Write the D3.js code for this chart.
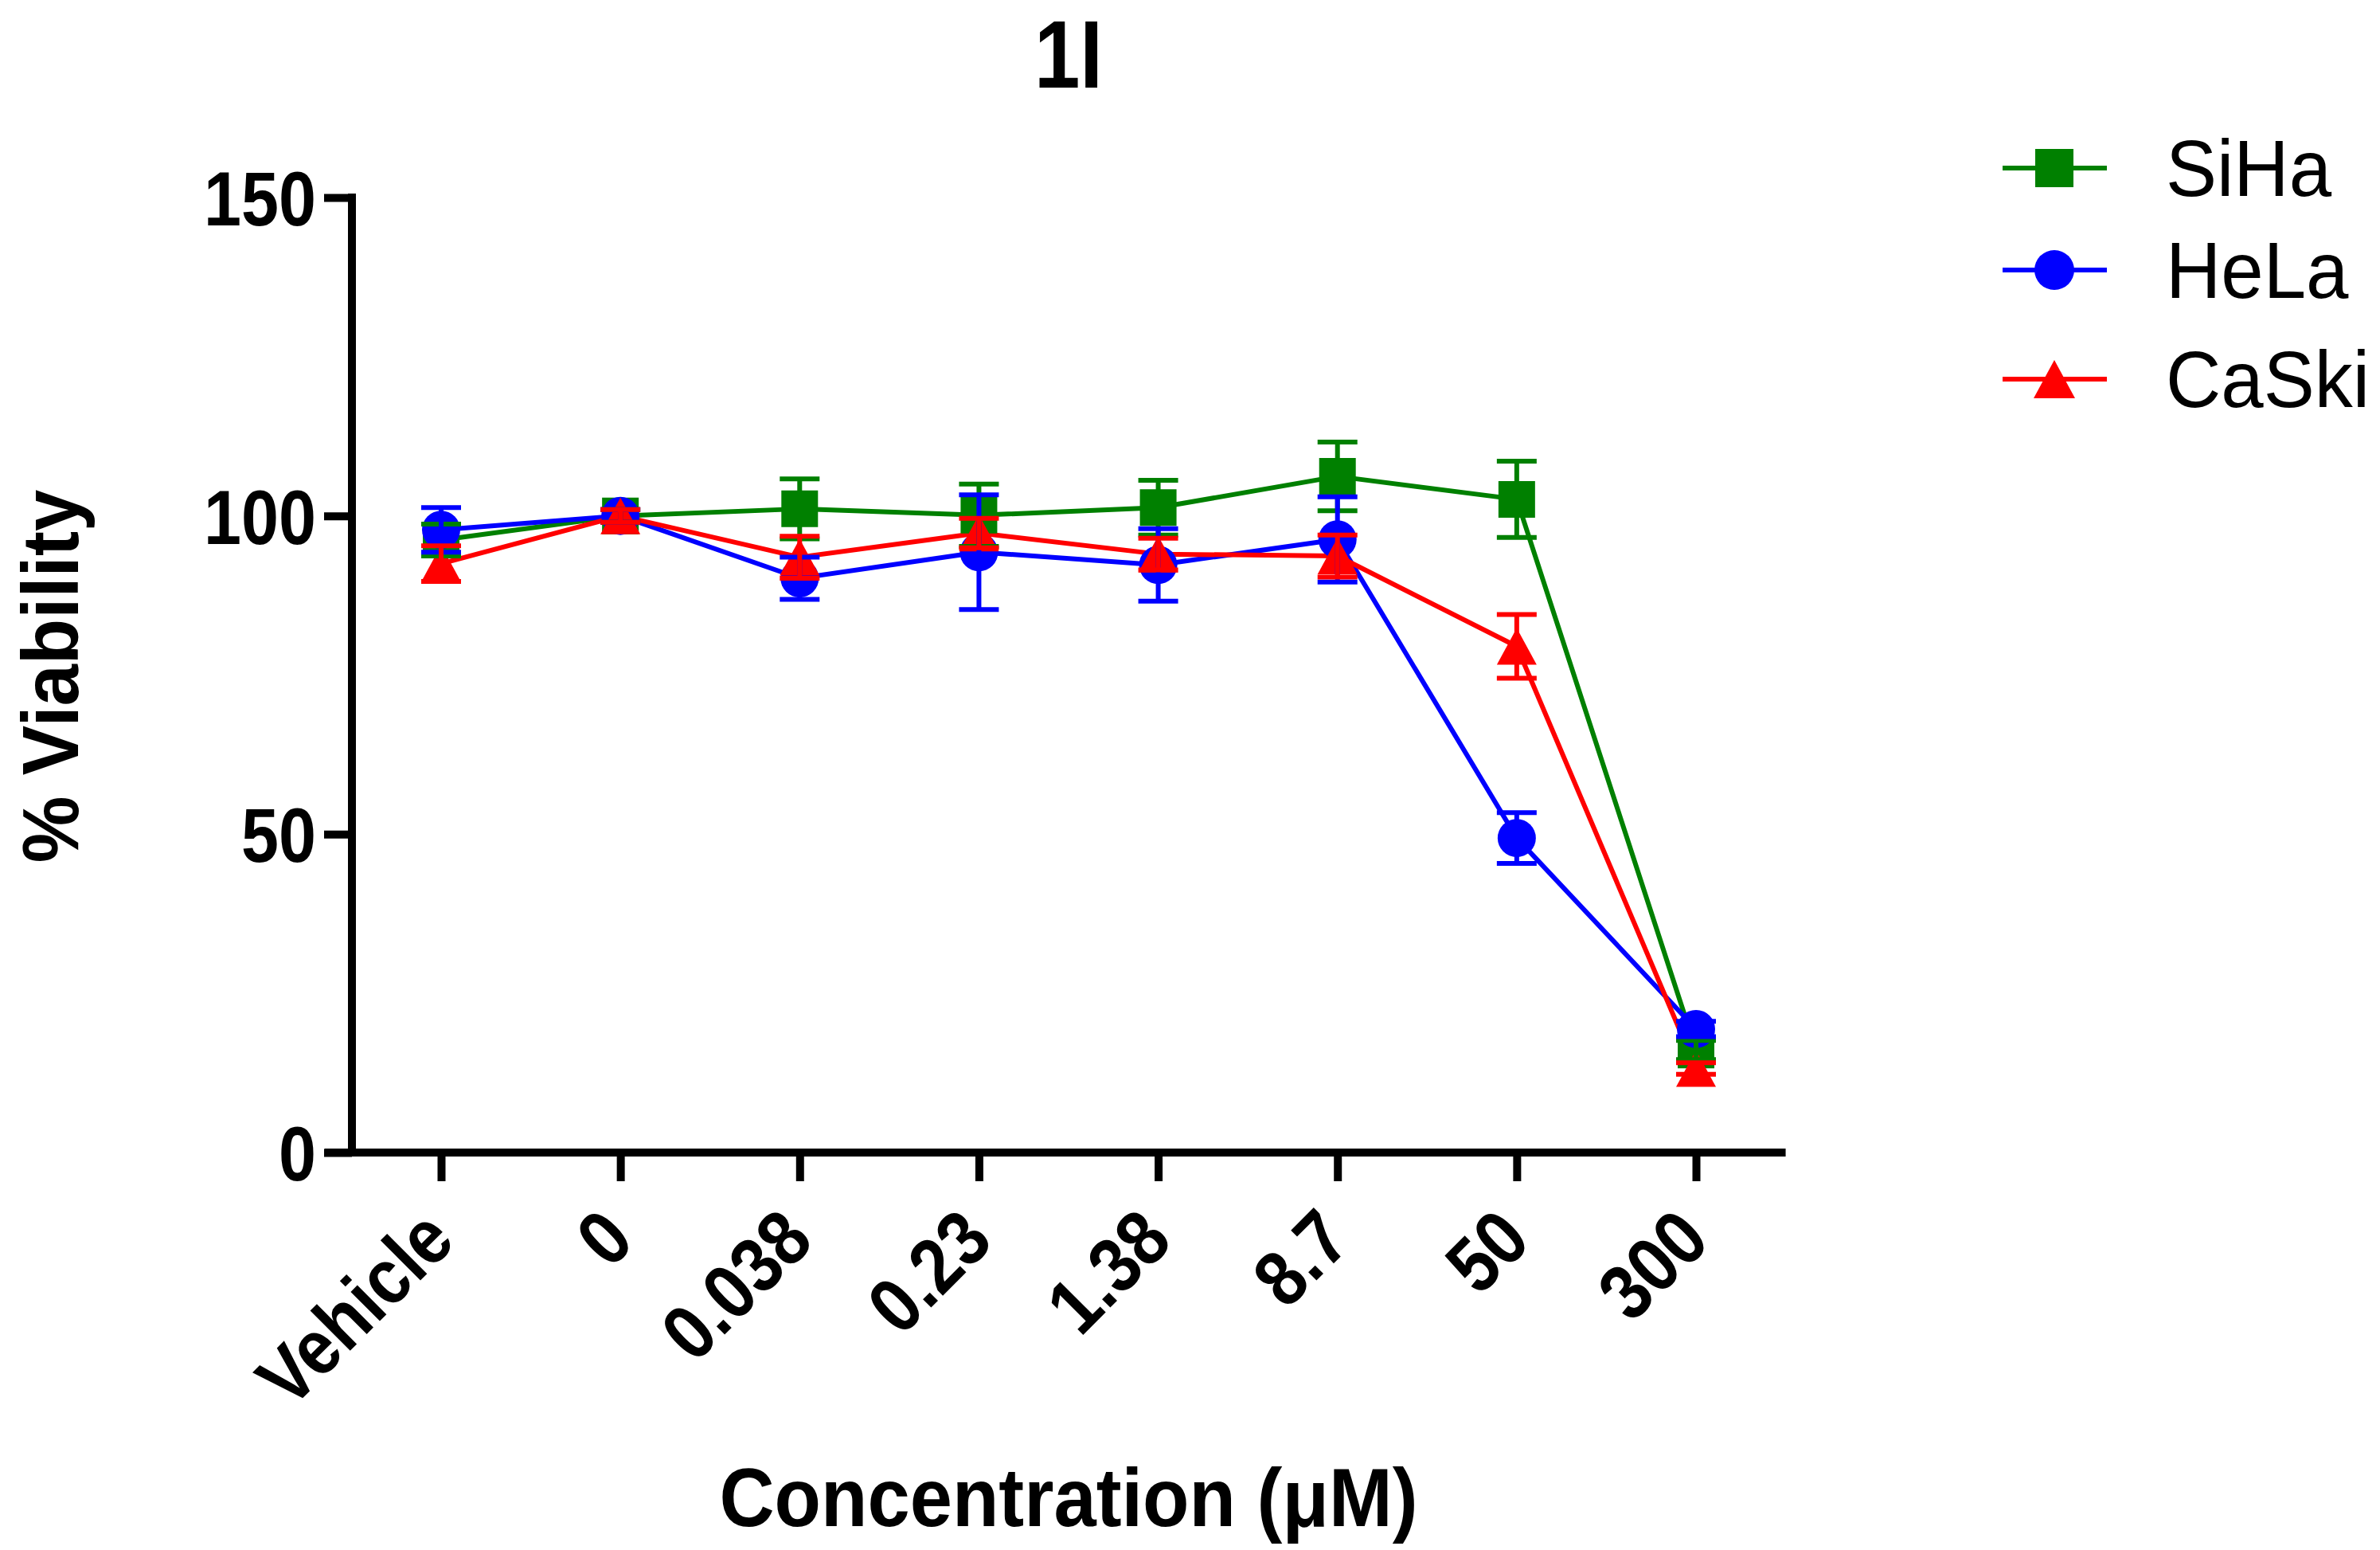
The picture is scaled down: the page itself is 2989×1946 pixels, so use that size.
<!DOCTYPE html>
<html>
<head>
<meta charset="utf-8">
<script src="https://cdn.jsdelivr.net/npm/d3@7/dist/d3.min.js"></script>
<style>
  html, body { margin: 0; padding: 0; background: #fff; }
  svg { display: block; }
  text { font-family: "Liberation Sans", Arial, Helvetica, sans-serif; }
</style>
</head>
<body>
<svg id="chart" width="2989" height="1946"></svg>
<script>
// ---------------- data ----------------
const categories = ["Vehicle", "0", "0.038", "0.23", "1.38", "8.7", "50", "300"];
const yTicks = [0, 50, 100, 150];
const seriesNames = ["SiHa", "HeLa", "CaSki"];
const seriesColors = ["#008000", "#0000FF", "#FF0000"];
const seriesShapes = ["square", "circle", "triangle"];

const sihaMean = [96.2, 100, 101.1, 100.1, 101.3, 106.2, 102.6, 16.1];
const sihaSem  = [2.5, 1.0, 4.7, 4.9, 4.3, 5.4, 6.0, 1.5];
const helaMean = [97.8, 100, 90.2, 94.3, 92.3, 96.3, 49.4, 19.4];
const helaSem  = [3.5, 1.0, 3.3, 9.0, 5.7, 6.7, 4.0, 1.2];
const caskiMean = [92.5, 100, 93.5, 97.3, 94.0, 93.7, 79.5, 13.2];
const caskiSem  = [2.8, 1.0, 3.3, 2.3, 2.5, 3.3, 5.0, 0.9];

const means = [sihaMean, helaMean, caskiMean];
const sems = [sihaSem, helaSem, caskiSem];

// ---------------- layout ----------------
const svg = d3.select("#chart");
const axisX = 442, axisY0 = 1447, axisYTop = 248;
const x = d3.scalePoint().domain(categories).range([554, 2130]);
const step = x.step();
const y = d3.scaleLinear().domain([0, 150]).range([axisY0, axisYTop]);

const AX_W = 10;
const LINE_W = 6;
const SYM = 46;
const CAP_W = 50;

function condense(sel, ratio) {
  sel.each(function () {
    const n = this.getComputedTextLength();
    d3.select(this).attr("textLength", n * ratio).attr("lengthAdjust", "spacingAndGlyphs");
  });
}

function symbolPath(shape, s) {
  const h = s / 2;
  if (shape === "square") return `M${-h},${-h}H${h}V${h}H${-h}Z`;
  if (shape === "circle") {
    const r = s / 2 + 1;
    return `M${-r},0A${r},${r} 0 1,0 ${r},0A${r},${r} 0 1,0 ${-r},0Z`;
  }
  const w = s / 2 + 2;
  return `M0,${-h}L${w},${h}L${-w},${h}Z`;
}

// ---------------- y axis ----------------
const yAxis = d3.axisLeft(y).tickValues(yTicks).tickSize(35).tickPadding(10).tickSizeOuter(0);
const gy = svg.append("g").attr("transform", `translate(${axisX},0)`).call(yAxis);
gy.select(".domain").remove();
gy.selectAll(".tick line").attr("stroke", "#000").attr("stroke-width", AX_W);
gy.selectAll(".tick text")
  .attr("font-size", 96).attr("font-weight", "bold").attr("fill", "#000")
  .attr("dy", "0.36em").attr("x", -45);
condense(gy.selectAll(".tick text"), 0.88);
svg.append("line")
  .attr("x1", axisX).attr("x2", axisX)
  .attr("y1", y(150) - AX_W / 2).attr("y2", y(0))
  .attr("stroke", "#000").attr("stroke-width", AX_W);

// ---------------- x axis ----------------
const xLeft = x(categories[0]) - 0.65 * step;
const xRight = x(categories[categories.length - 1]) + 0.5 * step;
svg.append("line")
  .attr("x1", xLeft).attr("x2", xRight)
  .attr("y1", y(0)).attr("y2", y(0))
  .attr("stroke", "#000").attr("stroke-width", AX_W);
const xAxis = d3.axisBottom(x).tickSize(36).tickSizeOuter(0);
const gx = svg.append("g").attr("transform", `translate(0,${y(0)})`).call(xAxis);
gx.select(".domain").remove();
gx.selectAll(".tick line").attr("stroke", "#000").attr("stroke-width", AX_W);
gx.selectAll(".tick text")
  .attr("font-size", 98).attr("font-weight", "bold").attr("fill", "#000")
  .attr("text-anchor", "end")
  .attr("y", 0).attr("dy", 0)
  .attr("transform", "translate(20,114) rotate(-45)");
condense(gx.selectAll(".tick text"), 0.88);

// ---------------- series ----------------
const line = d3.line().x((d, i) => x(categories[i])).y(d => y(d));
const gLines = svg.append("g");
const gSyms = svg.append("g");
const gErr = svg.append("g");

seriesNames.forEach((name, si) => {
  const color = seriesColors[si];
  gLines.append("path")
    .datum(means[si])
    .attr("d", line)
    .attr("fill", "none")
    .attr("stroke", color)
    .attr("stroke-width", LINE_W)
    .attr("stroke-linejoin", "round");

  gSyms.selectAll(null)
    .data(means[si])
    .join("path")
    .attr("d", symbolPath(seriesShapes[si], SYM))
    .attr("transform", (d, i) => `translate(${x(categories[i])},${y(d)})`)
    .attr("fill", color);

  const eg = gErr.append("g").attr("stroke", color).attr("stroke-width", LINE_W);
  means[si].forEach((m, i) => {
    const cx = x(categories[i]);
    const lo = y(m - sems[si][i]), hi = y(m + sems[si][i]);
    eg.append("line").attr("x1", cx).attr("x2", cx).attr("y1", lo).attr("y2", hi);
    eg.append("line").attr("x1", cx - CAP_W / 2).attr("x2", cx + CAP_W / 2).attr("y1", lo).attr("y2", lo);
    eg.append("line").attr("x1", cx - CAP_W / 2).attr("x2", cx + CAP_W / 2).attr("y1", hi).attr("y2", hi);
  });
});

// ---------------- titles ----------------
const title = svg.append("text")
  .attr("x", 1342).attr("y", 110)
  .attr("text-anchor", "middle")
  .attr("font-size", 120).attr("font-weight", "bold")
  .text("1I");
condense(title, 0.86);

const yLabel = svg.append("text")
  .attr("transform", "translate(98,849) rotate(-90)")
  .attr("text-anchor", "middle")
  .attr("font-size", 100).attr("font-weight", "bold")
  .text("% Viability");
condense(yLabel, 0.94);

const xLabel = svg.append("text")
  .attr("x", 1342).attr("y", 1916)
  .attr("text-anchor", "middle")
  .attr("font-size", 104).attr("font-weight", "bold")
  .text("Concentration (\u03BCM)");
condense(xLabel, 0.92);

// ---------------- legend ----------------
const legendRowsY = [211, 339, 476];
const lg = svg.append("g");
seriesNames.forEach((name, si) => {
  const ly = legendRowsY[si];
  lg.append("line")
    .attr("x1", 2515).attr("x2", 2646).attr("y1", ly).attr("y2", ly)
    .attr("stroke", seriesColors[si]).attr("stroke-width", LINE_W);
  lg.append("path")
    .attr("d", symbolPath(seriesShapes[si], 48))
    .attr("transform", `translate(2580,${ly})`)
    .attr("fill", seriesColors[si]);
  const t = lg.append("text")
    .attr("x", 2720).attr("y", ly).attr("dy", "0.35em")
    .attr("font-size", 100)
    .text(name);
  condense(t, 0.96);
});
</script>
</body>
</html>
